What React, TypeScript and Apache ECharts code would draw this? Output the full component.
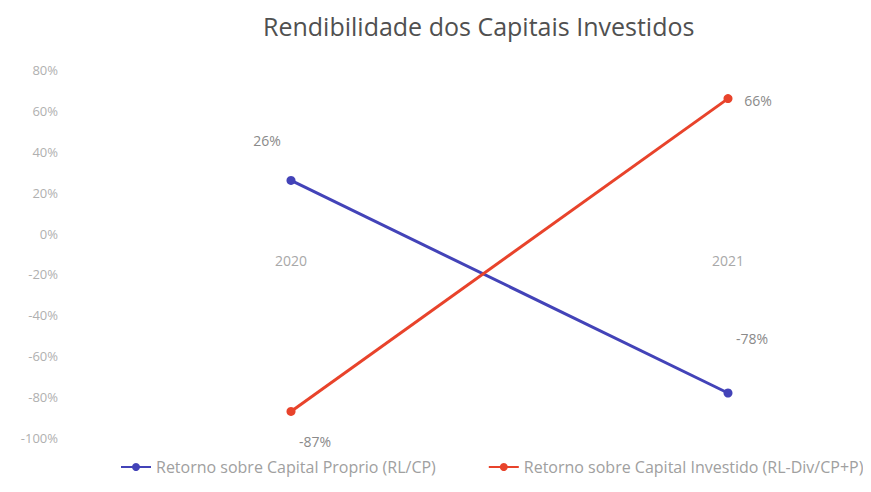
import React, { useEffect, useRef } from "react";
import * as echarts from "echarts";

const categories = ["2020", "2021"];
const seriesNames = [
  "Retorno sobre Capital Proprio (RL/CP)",
  "Retorno sobre Capital Investido (RL-Div/CP+P)",
];
const roeValues = [26, -78];
const roicValues = [-87, 66];
const seriesColors = ["#4343B8", "#E8432B"];

export default function App() {
  const ref = useRef<HTMLDivElement>(null);
  useEffect(() => {
    if (!ref.current) return;
    const chart = echarts.init(ref.current, null, { renderer: "svg" });
    const font = "'Open Sans', Lato, sans-serif";
    const lbl = (offset: number[]) => ({
      show: true,
      position: "inside",
      offset,
      formatter: (p: any) => p.value + "%",
      color: "#8a8a8a",
      fontSize: 14,
      fontFamily: font,
    });
    chart.setOption({
      animation: false,
      title: {
        text: "Rendibilidade dos Capitais Investidos",
        left: 250,
        top: 0,
        textStyle: { color: "#505050", fontSize: 25, fontWeight: "normal", fontFamily: font },
      },
      legend: {
        left: 107,
        top: 446,
        itemWidth: 30,
        itemHeight: 10,
        itemGap: 52,
        textStyle: { color: "#a0a0a0", fontSize: 16, fontFamily: font },
      },
      grid: { left: 283, right: 151, top: 62, bottom: 62 },
      xAxis: {
        type: "category",
        data: categories,
        boundaryGap: false,
        offset: -196,
        axisLine: { show: false, onZero: false },
        axisTick: { show: false },
        axisLabel: { color: "#a8a8a8", fontSize: 14, fontFamily: font, margin: 11 },
        splitLine: { show: false },
      },
      yAxis: {
        type: "value",
        min: -100,
        max: 80,
        interval: 20,
        axisLine: { show: false },
        axisTick: { show: false },
        splitLine: { show: false },
        axisLabel: {
          formatter: "{value}%",
          color: "#b0b0b0",
          fontSize: 13,
          fontFamily: font,
          margin: 233,
        },
      },
      series: [
        {
          name: seriesNames[0],
          type: "line",
          color: seriesColors[0],
          symbol: "circle",
          symbolSize: 9,
          lineStyle: { width: 3 },
          data: [
            { value: roeValues[0], label: lbl([-24, -40]) },
            { value: roeValues[1], label: lbl([24, -55]) },
          ],
        },
        {
          name: seriesNames[1],
          type: "line",
          color: seriesColors[1],
          symbol: "circle",
          symbolSize: 9,
          lineStyle: { width: 3 },
          data: [
            { value: roicValues[0], label: lbl([24, 30]) },
            { value: roicValues[1], label: lbl([30, 2]) },
          ],
        },
      ],
    });
    return () => chart.dispose();
  }, []);
  return <div ref={ref} style={{ width: 871, height: 492 }} />;
}
